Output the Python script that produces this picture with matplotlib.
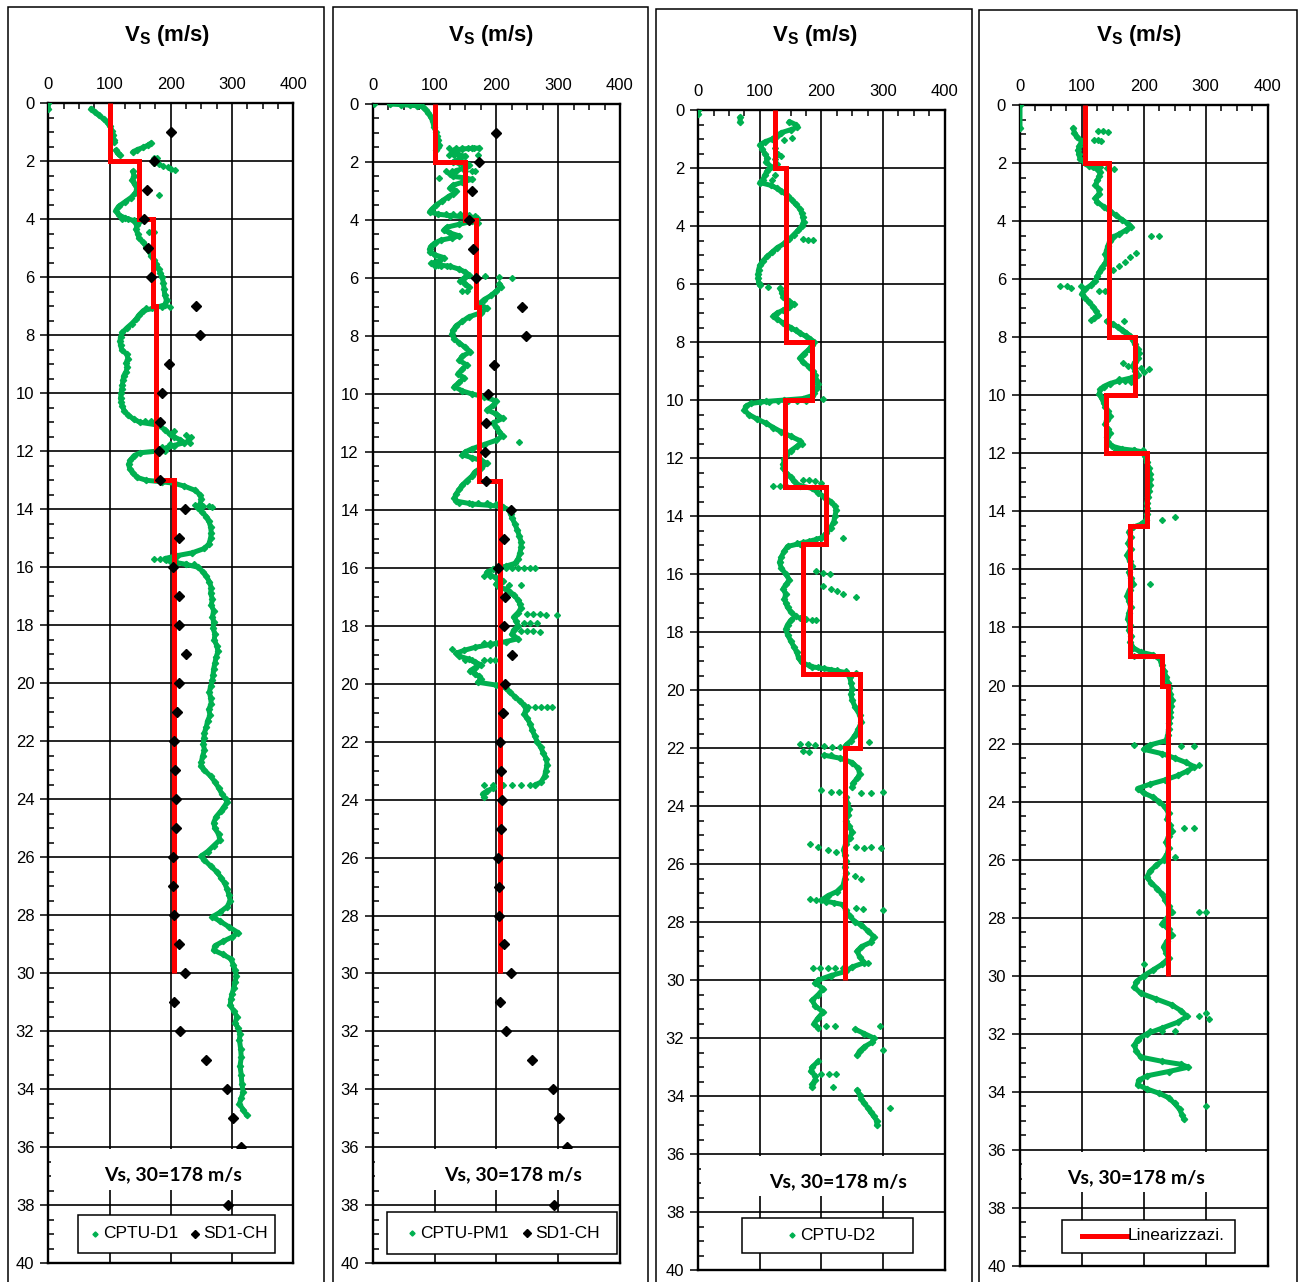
import numpy as np
import matplotlib
matplotlib.use("Agg")
import matplotlib.pyplot as plt
from matplotlib.patches import Rectangle
from matplotlib.lines import Line2D
from matplotlib.ticker import MultipleLocator

plt.rcParams["font.family"] = ["Liberation Sans", "DejaVu Sans"]
plt.rcParams["mathtext.fontset"] = "custom"
plt.rcParams["mathtext.bf"] = "Liberation Sans:bold"
plt.rcParams["mathtext.rm"] = "Liberation Sans"

GREEN = "#00B050"
RED = "#FF0000"
NA = (np.nan, np.nan)

# ---------------------------------------------------------------- data
# depth (m), Vs (m/s)
sd1_depth = [1, 2, 3, 4, 5, 6, 7, 8, 9, 10, 11, 12, 13, 14, 15, 16, 17, 18, 19,
             20, 21, 22, 23, 24, 25, 26, 27, 28, 29, 30, 31, 32, 33, 34, 35, 36, 38]
sd1_vs = [200, 172, 161, 156, 163, 167, 241, 248, 197, 186, 183, 181, 183, 223,
          213, 203, 214, 213, 225, 214, 210, 206, 207, 209, 208, 203, 204, 205,
          213, 223, 206, 215, 258, 291, 301, 315, 293]

# linearised profiles: layer boundaries and layer velocity
lin1_edges = [0, 2, 4, 7, 13, 30]
lin1_vs = [100, 148, 171, 176, 206]
lin2_edges = [0, 2, 4, 7, 13, 30]
lin2_vs = [100, 150, 167, 172, 206]
lin3_edges = [0, 2, 8, 10, 13, 14.95, 19.45, 22, 30]
lin3_vs = [125, 143, 184, 141, 208, 170, 263, 239]
lin4_edges = [0, 2, 8, 10, 12, 14.5, 19, 20, 30]
lin4_vs = [105, 144, 186, 139, 205, 177, 230, 239]

# CPTU-D1 continuous trace
cptu_d1 = [
    (0.0, 0), (0.2, 0), NA,
    (0.18, 70), (0.3, 76), (0.42, 83), (0.55, 91), (0.68, 97), (0.8, 101),
    (0.95, 104), (1.1, 106), (1.25, 107), (1.35, 108), NA,
    (1.62, 110), (1.72, 113), (1.8, 117), NA,
    (1.68, 138), (1.6, 145), (1.52, 155), (1.45, 162), (1.37, 168), NA,
    (2.35, 138), (2.5, 140), (2.65, 137), (2.8, 141), (2.95, 145), (3.1, 142),
    (3.25, 135), (3.4, 125), (3.55, 115), (3.7, 110), (3.85, 115), (3.95, 125),
    (4.05, 140), (4.2, 145), (4.35, 143), (4.5, 146), (4.65, 148), (4.8, 155),
    (4.95, 160), (5.1, 164), (5.25, 168), (5.4, 172), (5.55, 176), (5.7, 180),
    (5.85, 183), (6.0, 186), (6.2, 188), (6.4, 189), (6.6, 190), (6.8, 193),
    (6.95, 190), (7.05, 175), (7.15, 155), (7.3, 148), (7.45, 143), (7.6, 136),
    (7.75, 128), (7.9, 121), (8.05, 118), (8.2, 117), (8.35, 118), (8.5, 120),
    (8.65, 128), (8.8, 130), (8.95, 127), (9.1, 129), (9.25, 127), (9.4, 123),
    (9.55, 122), (9.7, 121), (9.85, 120), (10.0, 119), (10.15, 118), (10.3, 119),
    (10.45, 121), (10.6, 124), (10.75, 130), (10.9, 140), (11.0, 150),
    (11.1, 180), (11.25, 190), (11.4, 198), (11.5, 205), (11.6, 215), (11.7, 222),
    (11.8, 205), (11.9, 192), (12.0, 175), (12.05, 150), (12.15, 140), (12.3, 134),
    (12.45, 131), (12.6, 133), (12.75, 138), (12.9, 145), (13.0, 160), (13.05, 185),
    (13.1, 205), (13.2, 222), (13.35, 240), (13.5, 248), (13.65, 250), (13.8, 248),
    (13.95, 245), (14.1, 251), (14.25, 258), (14.4, 262), (14.6, 265), (14.8, 266),
    (15.0, 265), (15.2, 262), (15.35, 255), (15.5, 235), (15.6, 210), (15.7, 190),
    (15.8, 200), (15.9, 225), (16.0, 245), (16.15, 252), (16.3, 258), (16.5, 263),
    (16.7, 266), (16.9, 265), (17.1, 268), (17.3, 266), (17.5, 270), (17.7, 268),
    (17.9, 270), (18.1, 269), (18.3, 272), (18.5, 271), (18.7, 275), (18.9, 277),
    (19.1, 274), (19.3, 272), (19.5, 270), (19.7, 269), (19.9, 268), (20.1, 265),
    (20.3, 263), (20.5, 265), (20.7, 266), (20.9, 262), (21.1, 264), (21.3, 260),
    (21.5, 258), (21.7, 255), (21.9, 254), (22.1, 253), (22.3, 255), (22.5, 252),
    (22.7, 250), (22.85, 249), (23.0, 255), (23.2, 265), (23.4, 272), (23.6, 278),
    (23.8, 283), (24.0, 290), (24.1, 292), (24.25, 287), (24.4, 282), (24.6, 274),
    (24.8, 270), (25.0, 272), (25.2, 278), (25.4, 280), (25.6, 270), (25.8, 260),
    (25.95, 250), (26.1, 255), (26.3, 265), (26.5, 275), (26.7, 282), (26.9, 288),
    (27.1, 292), (27.3, 295), (27.5, 297), (27.7, 292), (27.9, 280), (28.05, 268),
    (28.2, 280), (28.4, 295), (28.6, 310), (28.75, 300), (28.9, 285), (29.05, 272),
    (29.2, 270), (29.35, 285), (29.5, 298), (29.7, 302), (29.9, 305), (30.1, 307),
    (30.3, 305), (30.5, 303), (30.7, 300), (30.9, 298), (31.1, 297), (31.3, 303),
    (31.5, 308), (31.7, 305), (31.9, 310), (32.1, 313), (32.3, 312), (32.6, 314),
    (32.9, 315), (33.2, 313), (33.5, 315), (33.8, 316), (34.1, 318), (34.3, 315),
    (34.5, 312), (34.7, 318), (34.9, 324),
]
cptu_d1_dots = [
    (1.9, 172), (1.9, 178), (2.05, 172), (2.1, 180), (2.15, 188), (2.2, 195),
    (2.25, 200), (2.3, 207), (3.15, 180), (3.98, 120), (4.0, 130), (4.03, 140),
    (4.06, 150), (4.45, 165), (4.45, 172), (7.03, 198), (7.03, 185), (7.05, 170),
    (7.05, 160), (10.95, 158), (10.95, 168), (11.3, 205), (11.45, 225), (11.5, 233),
    (11.6, 228), (11.7, 232), (11.75, 198), (11.85, 185), (12.0, 190), (13.85, 240),
    (13.87, 252), (13.9, 262), (13.92, 268), (15.7, 173), (15.72, 182), (15.75, 192),
    (15.85, 210), (15.9, 225), (15.9, 238),
]

# CPTU-PM1 continuous trace
cptu_pm1 = [
    (0.0, 28), (0.02, 45), (0.04, 60), (0.06, 72), (0.1, 81), (0.2, 86), (0.3, 90),
    (0.44, 94), (0.6, 97), (0.78, 99), (0.95, 102), (1.1, 104), (1.25, 106),
    (1.4, 107), (1.5, 105), (1.58, 102), NA,
    (1.52, 172), (1.53, 160), (1.55, 145), (1.6, 132), (1.68, 128), (1.76, 140),
    (1.8, 150), (1.9, 140), (2.0, 130), (2.05, 140), (2.12, 155), (2.2, 150),
    (2.3, 135), (2.4, 125), (2.5, 130), (2.55, 150), (2.6, 160), (2.7, 145),
    (2.8, 130), (2.9, 125), (3.0, 135), (3.1, 130), (3.2, 122), (3.35, 112),
    (3.5, 102), (3.62, 96), (3.72, 92), (3.8, 105), (3.85, 125), (3.9, 150),
    (3.95, 168), (4.05, 160), (4.15, 140), (4.25, 120), (4.35, 115), (4.45, 125),
    (4.55, 140), (4.62, 128), (4.7, 110), (4.8, 100), (4.9, 95), (5.0, 92),
    (5.1, 93), (5.2, 100), (5.3, 115), (5.4, 108), (5.5, 95), (5.55, 105),
    (5.6, 125), (5.7, 140), (5.8, 150), (5.9, 155), (6.0, 148), (6.1, 142),
    (6.2, 150), (6.3, 155), NA,
    (6.2, 205), (6.3, 208), (6.45, 200), (6.6, 192), (6.75, 180), (6.9, 172),
    (7.05, 185), (7.2, 175), (7.35, 155), (7.5, 145), (7.65, 135), (7.8, 130),
    (7.95, 128), (8.1, 132), (8.25, 140), (8.4, 150), (8.55, 158), (8.7, 145),
    (8.85, 140), (9.0, 152), (9.15, 145), (9.3, 138), (9.45, 148), (9.6, 140),
    (9.75, 132), (9.9, 145), (10.0, 160), (10.1, 180), (10.25, 200), (10.4, 195),
    (10.55, 185), (10.7, 200), (10.85, 210), (11.0, 195), (11.15, 200), (11.3, 205),
    (11.45, 210), (11.6, 200), (11.75, 180), (11.9, 160), (12.0, 150), (12.1, 145),
    (12.2, 160), (12.3, 175), (12.4, 185), (12.55, 175), (12.7, 165), (12.85, 160),
    (13.0, 152), (13.15, 145), (13.3, 140), (13.45, 135), (13.6, 132), (13.7, 135),
    (13.8, 160), (13.85, 190), (13.9, 210), (14.0, 220), (14.15, 223), (14.3, 226),
    (14.5, 230), (14.7, 234), (14.9, 237), (15.1, 240), (15.3, 240), (15.5, 238),
    (15.7, 235), (15.85, 230), (15.95, 215), (16.05, 195), (16.15, 185), (16.25, 190),
    (16.35, 200), (16.45, 210), (16.55, 200), (16.65, 205), (16.75, 215), (16.85, 222),
    (16.95, 228), (17.1, 235), (17.25, 238), (17.4, 240), (17.55, 235), (17.7, 228),
    (17.85, 232), (18.0, 235), (18.15, 228), (18.3, 225), (18.45, 235), (18.55, 215),
    (18.65, 190), (18.75, 165), (18.85, 148), (18.95, 135), (19.05, 140), (19.15, 155),
    (19.25, 165), (19.35, 175), (19.45, 165), (19.55, 158), (19.65, 165), (19.75, 172),
    (19.85, 175), (19.95, 170), (20.05, 200), (20.15, 215), (20.3, 222), (20.45, 230),
    (20.6, 238), (20.75, 245), (20.9, 248), (21.05, 245), (21.2, 250), (21.4, 255),
    (21.6, 258), (21.8, 262), (22.0, 266), (22.2, 272), (22.4, 276), (22.6, 281),
    (22.8, 282), (23.0, 280), (23.2, 278), (23.4, 272), (23.5, 262), NA,
    (23.6, 195), (23.7, 185), (23.8, 178), (23.9, 180),
]
cptu_pm1_dots = [
    (0.0, 2), (1.53, 124), (1.53, 134), (1.53, 144), (1.53, 154), (1.53, 164),
    (1.76, 124), (1.76, 132), (1.76, 170), (2.0, 150), (2.3, 118), (2.3, 128),
    (2.3, 150), (2.3, 160), (2.3, 166), (2.56, 108), (3.8, 118), (3.8, 130),
    (3.8, 142), (3.82, 155), (3.85, 165), (4.1, 170), (5.6, 100), (5.6, 110),
    (5.6, 120), (5.95, 182), (5.97, 204), (6.0, 225), (6.45, 145), (6.45, 152),
    (11.65, 236), (13.77, 140), (13.77, 155), (13.78, 170), (13.78, 185),
    (13.79, 200), (16.0, 215), (16.0, 225), (16.0, 235), (16.0, 245), (16.0, 255),
    (16.0, 263), (16.3, 180), (16.3, 190), (16.6, 220), (16.6, 240), (17.6, 250),
    (17.6, 260), (17.6, 270), (17.62, 280), (17.62, 298), (17.9, 245), (17.9, 255),
    (17.9, 265), (18.2, 240), (18.2, 250), (18.2, 260), (18.22, 270), (18.6, 180),
    (18.6, 190), (18.6, 200), (18.8, 128), (19.2, 150), (19.2, 160), (19.2, 180),
    (19.2, 190), (19.2, 198), (20.8, 252), (20.8, 262), (20.8, 272), (20.8, 282),
    (20.8, 290), (23.5, 180), (23.5, 195), (23.5, 210), (23.5, 225), (23.5, 240),
    (23.5, 255),
]

# CPTU-D2 continuous trace
cptu_d2 = [
    (0.0, 0), (0.15, 0), NA, (0.25, 68), (0.4, 68), NA,
    (0.4, 148), (0.5, 158), (0.6, 160), (0.68, 150), (0.78, 135), (0.88, 128),
    (1.0, 120), (1.1, 108), (1.2, 100), (1.35, 104), (1.5, 108), (1.65, 112),
    (1.8, 110), (1.95, 118), (2.1, 112), (2.25, 108), (2.4, 105), (2.5, 100),
    (2.6, 118), (2.7, 128), (2.8, 135), (2.95, 145), (3.1, 152), (3.25, 158),
    (3.4, 165), (3.55, 168), (3.7, 170), (3.85, 171), (4.0, 168), (4.15, 162),
    (4.3, 155), (4.45, 148), (4.6, 140), (4.75, 128), (4.9, 120), (5.05, 112),
    (5.2, 105), (5.35, 100), (5.5, 98), (5.65, 97), (5.8, 97), (5.95, 98),
    (6.05, 100), NA,
    (6.15, 133), (6.3, 136), (6.45, 138), (6.6, 148), (6.7, 155), (6.8, 148),
    (6.9, 138), (7.0, 128), (7.1, 122), (7.2, 128), (7.35, 138), (7.5, 150),
    (7.6, 158), (7.7, 165), (7.8, 175), (7.9, 182), (8.0, 188), (8.1, 185),
    (8.25, 180), (8.4, 172), (8.55, 165), (8.7, 170), (8.85, 180), (9.0, 186),
    (9.15, 190), (9.3, 192), (9.45, 195), (9.6, 193), (9.75, 188), (9.85, 185),
    (9.95, 170), (10.0, 140), (10.05, 110), (10.12, 85), (10.22, 77), (10.35, 75),
    (10.5, 82), (10.65, 95), (10.8, 110), (10.95, 122), (11.1, 135), (11.25, 150),
    (11.4, 165), (11.5, 168), (11.6, 160), (11.75, 150), (11.9, 143), (12.05, 140),
    (12.2, 138), (12.35, 138), (12.5, 142), (12.65, 150), (12.8, 155), (12.95, 165),
    (13.05, 185), (13.2, 195), (13.35, 205), (13.5, 215), (13.65, 222), (13.8, 224),
    (14.0, 222), (14.2, 220), (14.4, 215), (14.6, 208), (14.75, 200), (14.85, 185),
    (14.95, 165), (15.05, 145), (15.2, 140), (15.4, 135), (15.6, 132), (15.8, 135),
    (16.0, 142), (16.2, 148), (16.35, 143), (16.5, 138), (16.7, 142), (16.85, 140),
    (17.0, 142), (17.15, 145), (17.3, 150), (17.45, 158), (17.6, 150), (17.75, 145),
    (17.9, 142), (18.1, 145), (18.3, 150), (18.5, 155), (18.7, 160), (18.9, 163),
    (19.05, 168), (19.2, 185), (19.3, 215), (19.4, 240), (19.55, 246), (19.75, 248),
    (19.95, 250), (20.15, 248), (20.35, 250), (20.6, 255), (20.85, 262), (21.1, 265),
    (21.35, 260), (21.55, 255), (21.75, 248), (21.9, 240), NA,
    (22.25, 205), (22.35, 230), (22.5, 250), (22.7, 260), (22.9, 262), (23.05, 258),
    (23.2, 252), (23.35, 250), NA,
    (23.7, 240), (23.9, 242), (24.1, 245), (24.3, 243), (24.5, 240), (24.7, 245),
    (24.9, 250), (25.1, 246), (25.3, 240), (25.5, 236), (25.7, 238), (25.9, 240),
    (26.1, 238), (26.3, 240), (26.5, 238), (26.75, 235), (26.95, 225), (27.1, 210),
    (27.25, 200), (27.4, 235), (27.6, 240), (27.8, 246), (28.0, 255), (28.1, 265),
    (28.3, 275), (28.5, 285), (28.7, 280), (28.85, 265), (29.0, 258), (29.2, 262),
    (29.4, 270), (29.55, 250), (29.7, 240), (29.85, 215), (30.0, 195), (30.1, 190),
    (30.3, 203), (30.5, 195), (30.7, 185), (30.9, 190), (31.1, 203), (31.3, 195),
    (31.5, 188), (31.65, 195), NA,
    (31.7, 255), (31.85, 270), (32.0, 285), (32.15, 282), (32.3, 270), (32.45, 262),
    (32.6, 258), NA,
    (32.8, 195), (33.0, 185), (33.15, 183), (33.3, 190), (33.45, 190), (33.6, 185),
    (33.7, 185), NA,
    (33.8, 258), (33.95, 262), (34.1, 265), (34.25, 270), (34.4, 275), (34.55, 280),
    (34.7, 285), (34.85, 290), (35.0, 290),
]
cptu_d2_dots = [
    (0.95, 153), (1.05, 140), (1.3, 125), (1.5, 130), (1.6, 135), (1.7, 125),
    (1.85, 128), (2.25, 125), (2.4, 120), (4.45, 170), (4.47, 178), (4.48, 186),
    (6.1, 114), (9.95, 202), (10.02, 175), (10.03, 160), (10.04, 145), (10.05, 130),
    (10.06, 115), (10.08, 100), (12.75, 170), (12.75, 180), (12.8, 190), (12.85, 200),
    (12.95, 122), (12.95, 132), (12.95, 142), (14.75, 235), (14.8, 192), (14.85, 180),
    (14.9, 170), (14.92, 160), (15.9, 192), (15.95, 203), (16.0, 214), (16.4, 203),
    (16.5, 215), (16.6, 225), (16.7, 235), (16.8, 257), (17.5, 165), (17.55, 175),
    (17.6, 185), (17.6, 192), (19.15, 180), (19.2, 195), (19.25, 205), (19.3, 225),
    (19.35, 240), (19.4, 257), (21.8, 278), (21.85, 165), (21.87, 178), (21.9, 190),
    (21.92, 205), (21.95, 218), (21.97, 230), (22.1, 170), (22.15, 180), (22.25, 215),
    (23.45, 200), (23.5, 215), (23.5, 228), (23.55, 265), (23.55, 280), (23.5, 300),
    (25.3, 181), (25.4, 195), (25.5, 210), (25.6, 224), (25.4, 257), (25.45, 270),
    (25.4, 281), (25.45, 297), (26.4, 255), (26.5, 265), (27.2, 181), (27.25, 192),
    (27.3, 208), (27.35, 220), (27.5, 257), (27.55, 268), (27.6, 300), (29.4, 276),
    (29.6, 186), (29.6, 198), (29.6, 210), (29.6, 222), (29.6, 235), (31.6, 208),
    (31.6, 222), (31.6, 295), (32.4, 300), (33.25, 200), (33.25, 212), (33.25, 224),
    (33.7, 219), (34.4, 311),
]

# fourth CPTU trace
cptu_4 = [
    (0.0, 0), (0.8, 0), NA,
    (0.8, 86), (0.95, 88), (1.1, 92), (1.25, 100), (1.4, 96), (1.55, 94), (1.7, 95),
    (1.85, 97), (2.0, 105), (2.1, 112), (2.2, 125), (2.3, 130), (2.45, 128),
    (2.6, 125), (2.75, 122), (2.9, 127), (3.05, 128), (3.2, 122), (3.35, 125),
    (3.5, 135), (3.65, 145), (3.8, 155), (3.95, 165), (4.1, 175), (4.2, 180),
    (4.3, 172), (4.45, 160), (4.55, 150), (4.7, 145), (4.85, 142), (5.0, 140),
    (5.15, 138), (5.3, 140), (5.45, 138), (5.6, 132), (5.75, 128), (5.9, 125),
    (6.05, 122), (6.2, 115), (6.35, 105), (6.5, 100), (6.65, 105), (6.8, 112),
    (6.95, 118), (7.1, 123), (7.25, 126), (7.35, 120), NA,
    (7.45, 140), (7.55, 150), (7.65, 158), (7.75, 165), (7.85, 172), (7.95, 178),
    (8.1, 182), (8.25, 186), (8.4, 190), (8.55, 192), (8.7, 190), (8.85, 186),
    (9.0, 182), (9.15, 186), (9.3, 190), (9.4, 180), (9.5, 160), (9.6, 145),
    (9.7, 135), (9.8, 130), (9.95, 128), (10.1, 132), (10.25, 135), (10.4, 138),
    (10.55, 142), (10.7, 145), (10.85, 140), (11.0, 138), (11.15, 142), (11.3, 145),
    (11.45, 140), (11.6, 142), (11.75, 148), (11.85, 165), (11.9, 185), (11.95, 198),
    (12.1, 202), (12.3, 205), (12.5, 208), (12.7, 210), (12.9, 210), (13.1, 210),
    (13.3, 208), (13.5, 207), (13.7, 205), (13.9, 206), (14.1, 206), (14.3, 204),
    (14.45, 195), (14.55, 182), (14.7, 176), (14.9, 179), (15.1, 175), (15.3, 179),
    (15.5, 173), (15.7, 177), (15.9, 181), (16.1, 176), (16.3, 179), (16.5, 183),
    (16.7, 177), (16.9, 173), (17.1, 176), (17.3, 179), (17.5, 176), (17.7, 174),
    (17.9, 178), (18.1, 176), (18.3, 180), (18.5, 178), (18.7, 183), (18.85, 195),
    (18.95, 215), (19.1, 226), (19.3, 229), (19.5, 233), (19.7, 236), (19.9, 239),
    (20.1, 241), (20.3, 243), (20.5, 245), (20.7, 244), (20.9, 243), (21.1, 242),
    (21.3, 241), (21.5, 240), (21.7, 239), (21.9, 236), (22.05, 210), (22.2, 200),
    (22.35, 230), (22.5, 250), (22.65, 268), (22.8, 282), (22.95, 270), (23.1, 255),
    (23.25, 235), (23.4, 210), (23.55, 190), (23.7, 200), (23.85, 215), (24.0, 225),
    (24.2, 235), (24.4, 240), (24.6, 238), (24.8, 242), (25.0, 245), (25.2, 240),
    (25.4, 236), (25.6, 240), (25.8, 238), (26.0, 232), (26.2, 220), (26.4, 210),
    (26.6, 205), (26.8, 212), (27.0, 222), (27.2, 230), (27.4, 235), (27.6, 240),
    (27.8, 245), (28.0, 238), (28.2, 230), (28.4, 240), (28.6, 245), (28.8, 238),
    (29.0, 232), (29.2, 236), (29.4, 240), (29.6, 230), (29.8, 215), (30.0, 200),
    (30.2, 188), (30.4, 185), (30.6, 195), (30.8, 220), (31.0, 245), (31.2, 260),
    (31.4, 270), (31.6, 255), (31.8, 230), (32.0, 205), (32.2, 190), (32.4, 185),
    (32.6, 188), (32.8, 195), (32.95, 230), (33.05, 260), (33.15, 272), (33.3, 240),
    (33.45, 205), (33.6, 192), (33.75, 190), (33.9, 205), (34.05, 225), (34.2, 240),
    (34.4, 250), (34.6, 258), (34.8, 262), (34.95, 265),
]
cptu_4_dots = [
    (0.9, 126), (0.9, 134), (0.92, 142), (1.2, 120), (1.22, 126), (1.25, 131),
    (2.15, 118), (2.15, 130), (2.17, 140), (2.2, 152), (4.53, 211), (4.53, 225),
    (5.1, 187), (5.25, 178), (5.4, 170), (5.55, 160), (5.7, 150), (6.25, 64),
    (6.25, 76), (6.3, 82), (6.22, 99), (6.4, 128), (6.4, 138), (7.4, 115),
    (7.45, 168), (8.9, 166), (9.0, 175), (9.05, 195), (9.1, 208), (9.2, 200),
    (9.45, 160), (9.5, 170), (9.55, 180), (11.87, 155), (11.87, 170), (11.87, 185),
    (11.87, 198), (14.2, 250), (14.3, 230), (16.5, 210), (19.0, 185), (19.0, 200),
    (22.05, 185), (22.1, 260), (22.1, 282), (22.75, 290), (24.9, 265), (24.9, 282),
    (25.9, 250), (27.8, 290), (27.8, 300), (29.6, 200), (31.3, 300), (31.5, 305),
    (31.4, 290), (31.9, 210), (31.9, 230), (31.9, 250), (34.5, 300),
]

vs30_label = "Vs, 30=178 m/s"
title_label = r"$\mathbf{V}_\mathbf{S}$ (m/s)"

# ---------------------------------------------------------------- layout
W, H = 1304, 1282
fig = plt.figure(figsize=(W / 100, H / 100), dpi=100)


def fx(x):
    return x / W


def fy(y):
    return 1 - y / H


def add_px_axes(l, r, t, b):
    return fig.add_axes([fx(l), fy(b), (r - l) / W, (b - t) / H])


panels = [
    dict(box=(8, 7, 324), ax=(48.3, 293.3, 103.3, 1263.3), text_x=204),
    dict(box=(333, 7, 648), ax=(372.7, 620, 104, 1263.3), text_x=227),
    dict(box=(656, 9, 972), ax=(698.3, 944.5, 110, 1270), text_x=227),
    dict(box=(979, 10, 1297), ax=(1020, 1267.5, 105, 1266), text_x=187),
]

traces = [
    (cptu_d1, cptu_d1_dots, lin1_edges, lin1_vs, True),
    (cptu_pm1, cptu_pm1_dots, lin2_edges, lin2_vs, True),
    (cptu_d2, cptu_d2_dots, lin3_edges, lin3_vs, False),
    (cptu_4, cptu_4_dots, lin4_edges, lin4_vs, False),
]

for p, (trace, dots, edges, lin, show_sd1) in zip(panels, traces):
    bx0, by0, bx1 = p["box"]
    fig.add_artist(Rectangle((fx(bx0), fy(1300)), (bx1 - bx0) / W, (1300 - by0) / H,
                             transform=fig.transFigure, fill=False,
                             ec="black", lw=1.1, zorder=0))
    l, r, t, b = p["ax"]
    ax = add_px_axes(l, r, t, b)
    ax.set_xlim(0, 400)
    ax.set_ylim(40, 0)
    ax.xaxis.tick_top()
    ax.set_xticks([0, 100, 200, 300, 400])
    ax.set_yticks(np.arange(0, 41, 2))
    ax.xaxis.set_minor_locator(MultipleLocator(25))
    ax.yaxis.set_minor_locator(MultipleLocator(0.5))
    ax.tick_params(axis="x", which="major", length=0, pad=8, labelsize=12,
                   top=True, bottom=False)
    ax.tick_params(axis="x", which="minor", direction="in", length=4, width=1.1,
                   top=True, bottom=False)
    ax.tick_params(axis="y", which="major", direction="out", length=6, width=1.1,
                   pad=4, labelsize=12, left=True, right=False)
    ax.tick_params(axis="y", which="minor", direction="in", length=4, width=1.1,
                   left=True, right=False)
    ax.grid(which="major", color="black", lw=1.2)
    ax.set_axisbelow(True)
    for s in ax.spines.values():
        s.set_linewidth(1.7)

    tr = np.array(trace, dtype=float)
    ax.plot(tr[:, 1], tr[:, 0], color=GREEN, lw=3.6, marker="D", ms=3.2,
            mec=GREEN, mfc=GREEN, zorder=3, solid_capstyle="round",
            solid_joinstyle="round")
    dt = np.array(dots, dtype=float)
    ax.plot(dt[:, 1], dt[:, 0], ls="none", marker="D", ms=3.0, color=GREEN, zorder=3)

    ax.stairs(lin, edges, orientation="horizontal", baseline=None,
              color=RED, lw=3.6, zorder=4)

    if show_sd1:
        ax.plot(sd1_vs, sd1_depth, ls="none", marker="D", ms=5.2, color="black",
                zorder=4.5)

    # label box for the 30 m average
    ax.add_patch(Rectangle((4, 36.06), 393, 1.4, fc="white", ec="none", zorder=5))
    ax.text(p["text_x"], 36.95, vs30_label, ha="center", va="center",
            fontsize=14, fontweight="bold", family=["Lato", "DejaVu Sans"], zorder=6)

    fig.text(fx((bx0 + bx1) / 2 + 1), fy(35), title_label, ha="center", va="center",
             fontsize=16, fontweight="bold")


# ---------------------------------------------------------------- legends
def legend_box(x0, y0, x1, y1):
    fig.add_artist(Rectangle((fx(x0), fy(y1)), (x1 - x0) / W, (y1 - y0) / H,
                             transform=fig.transFigure, fc="white", ec="black",
                             lw=1.1, zorder=10))


def legend_marker(x, y, ms, color):
    fig.add_artist(Line2D([fx(x)], [fy(y)], transform=fig.transFigure, ls="none",
                          marker="D", ms=ms, color=color, zorder=11))


def legend_text(x, y, s):
    fig.text(fx(x), fy(y), s, ha="left", va="center", fontsize=12.5, zorder=11)


legend_box(78, 1215, 275, 1253)
legend_marker(95, 1234, 2.6, GREEN)
legend_text(103, 1234, "CPTU-D1")
legend_marker(195, 1234, 3.6, "black")
legend_text(203, 1234, "SD1-CH")

legend_box(387, 1212, 617, 1254)
legend_marker(412, 1233, 2.6, GREEN)
legend_text(420, 1233, "CPTU-PM1")
legend_marker(527, 1233, 3.6, "black")
legend_text(535, 1233, "SD1-CH")

legend_box(742, 1218, 913, 1253)
legend_marker(792, 1235, 2.6, GREEN)
legend_text(800, 1235, "CPTU-D2")

legend_box(1062, 1220, 1235, 1253)
fig.add_artist(Line2D([fx(1082), fx(1127)], [fy(1236), fy(1236)],
                      transform=fig.transFigure, color=RED, lw=3.6, zorder=11))
legend_text(1128, 1236, "Linearizzazi.")

fig.savefig("out.png", dpi=100)
